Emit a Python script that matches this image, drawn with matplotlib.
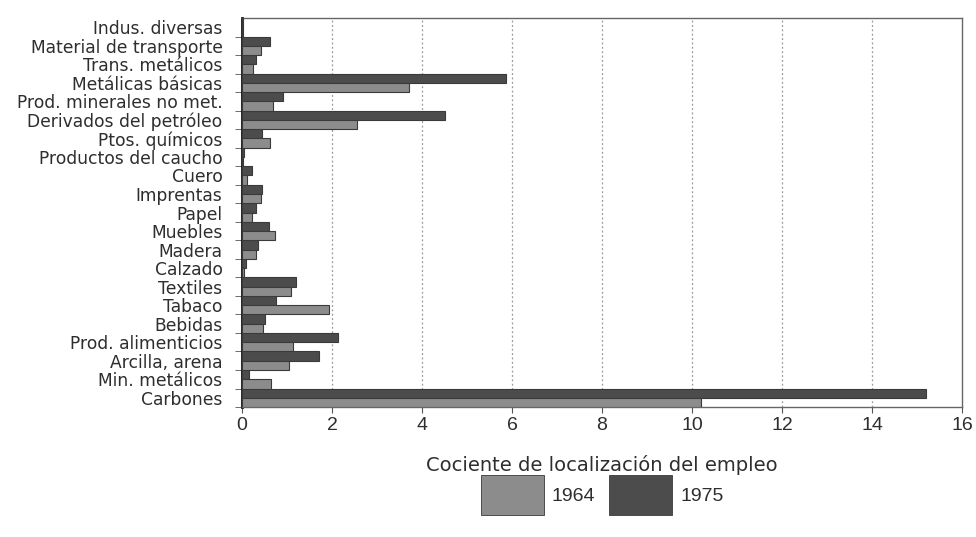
import matplotlib
matplotlib.use("Agg")
import matplotlib.pyplot as plt
import numpy as np
from matplotlib.patches import Patch

plt.rcParams['font.family'] = ['DejaVu Sans']

categories = ["Indus. diversas", "Material de transporte", "Trans. metálicos",
              "Metálicas básicas", "Prod. minerales no met.", "Derivados del petróleo",
              "Ptos. químicos", "Productos del caucho", "Cuero", "Imprentas", "Papel",
              "Muebles", "Madera", "Calzado", "Textiles", "Tabaco", "Bebidas",
              "Prod. alimenticios", "Arcilla, arena", "Min. metálicos", "Carbones"]
v1975 = [0.03, 0.62, 0.30, 5.86, 0.90, 4.50, 0.45, 0.05, 0.22, 0.44, 0.32,
         0.60, 0.35, 0.08, 1.19, 0.76, 0.51, 2.14, 1.71, 0.16, 15.19]
v1964 = [0.02, 0.42, 0.25, 3.72, 0.68, 2.56, 0.62, 0.02, 0.12, 0.42, 0.22,
         0.74, 0.30, 0.04, 1.09, 1.94, 0.47, 1.14, 1.05, 0.64, 10.20]
series_labels = ["1964", "1975"]
xticks = [0, 2, 4, 6, 8, 10, 12, 14, 16]

c64 = "#8c8c8c"
c75 = "#4c4c4c"
edge = "#3a3a3a"
txt = "#2e2e2e"
numfont = ['Liberation Sans', 'DejaVu Sans']

fig = plt.figure(figsize=(9.76, 5.37), dpi=100)
ax = fig.add_axes([0.248, 0.242, 0.7377, 0.7245])

n = len(categories)
y = np.arange(n)
h = 0.5
ax.barh(y - h / 2, v1975, height=h, color=c75, edgecolor=edge, linewidth=0.8, zorder=3)
ax.barh(y + h / 2, v1964, height=h, color=c64, edgecolor=edge, linewidth=0.8, zorder=3)

ax.set_ylim(n - 0.5, -0.5)
ax.set_xlim(0, 16)
ax.set_yticks(y)
ax.set_yticklabels(categories, fontsize=12.3, color=txt)
ax.set_yticks(np.arange(n) + 0.5, minor=True)
ax.tick_params(axis='y', which='major', length=0, pad=14)
ax.tick_params(axis='y', which='minor', length=5, color='#555555', direction='out')
ax.set_xticks(xticks)
ax.set_xticklabels([str(t) for t in xticks], fontsize=14, color=txt, family=numfont)
ax.tick_params(axis='x', length=4.5, color='#555555', direction='out', pad=3)

for t in xticks[1:-1]:
    ax.axvline(t, color='#999999', linestyle=(0, (1.5, 2)), linewidth=0.9, zorder=1)

ax.spines['left'].set_linewidth(2.0)
ax.spines['left'].set_color('#111111')
for s in ['top', 'right', 'bottom']:
    ax.spines[s].set_color('#666666')
    ax.spines[s].set_linewidth(1.0)

ax.set_xlabel("Cociente de localización del empleo", fontsize=14, color=txt, labelpad=15)

handles = [Patch(facecolor=c64, edgecolor=edge, linewidth=0.6),
           Patch(facecolor=c75, edgecolor=edge, linewidth=0.6)]
fig.legend(handles, series_labels, loc='center', bbox_to_anchor=(0.617, 0.078), ncol=2,
           frameon=False, handlelength=3.25, handleheight=2.75,
           handletextpad=0.41, columnspacing=0.72, labelcolor=txt,
           prop={'family': numfont, 'size': 14})

fig.savefig("out.png", dpi=100)
